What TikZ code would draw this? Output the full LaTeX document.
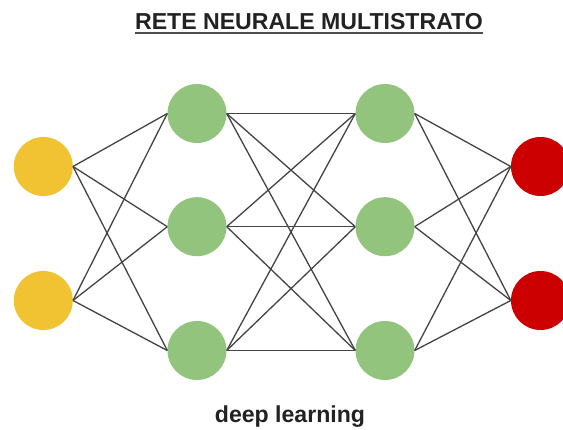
\documentclass[tikz,border=0pt]{standalone}
\usepackage{fontspec}
\setmainfont{Liberation Sans}
\definecolor{inyellow}{HTML}{F1C232}
\definecolor{hidgreen}{HTML}{93C47D}
\definecolor{outred}{HTML}{CC0000}
\definecolor{edgegray}{HTML}{444444}
\definecolor{textgray}{HTML}{222222}
\begin{document}
\begin{tikzpicture}[x=1pt,y=-1pt,
  neuron/.style={circle,minimum size=59pt,inner sep=0pt,draw=none},
  inneuron/.style={neuron,fill=inyellow},
  hidneuron/.style={neuron,fill=hidgreen},
  outneuron/.style={neuron,fill=outred},
  link/.style={draw=edgegray,line width=1.3pt},
  label/.style={font=\fontsize{23.1pt}{26pt}\selectfont\bfseries,text=textgray,inner sep=0pt,anchor=base}]
\useasboundingbox (0,0) rectangle (563,430);
\clip (0,0) rectangle (563,430);
\fill[white] (0,0) rectangle (563,430);
% nodes
\node[inneuron] (i1) at (43.3,166.5) {};
\node[inneuron] (i2) at (43.3,300.5) {};
\node[hidneuron] (a1) at (197,113.5) {};
\node[hidneuron] (a2) at (197,226.7) {};
\node[hidneuron] (a3) at (197,350.5) {};
\node[hidneuron] (b1) at (385,113.5) {};
\node[hidneuron] (b2) at (385,226.7) {};
\node[hidneuron] (b3) at (385,350.5) {};
\node[outneuron] (o1) at (540.5,166.5) {};
\node[outneuron] (o2) at (540.5,300.5) {};
% connections
\foreach \s in {i1,i2}{\foreach \t in {a1,a2,a3}{\draw[link] (\s.east) -- (\t.west);}}
\foreach \s in {a1,a2,a3}{\foreach \t in {b1,b2,b3}{\draw[link] (\s.east) -- (\t.west);}}
\foreach \s in {b1,b2,b3}{\foreach \t in {o1,o2}{\draw[link] (\s.east) -- (\t.west);}}
% texts
\node[label] (title) at (309,29.3) {RETE NEURALE MULTISTRATO};
\draw[draw=textgray!80,line width=2.4pt] ([yshift=-4pt]title.base west) -- ([yshift=-4pt]title.base east);
\node[label] (caption) at (290,423) {deep learning};
\end{tikzpicture}
\end{document}
